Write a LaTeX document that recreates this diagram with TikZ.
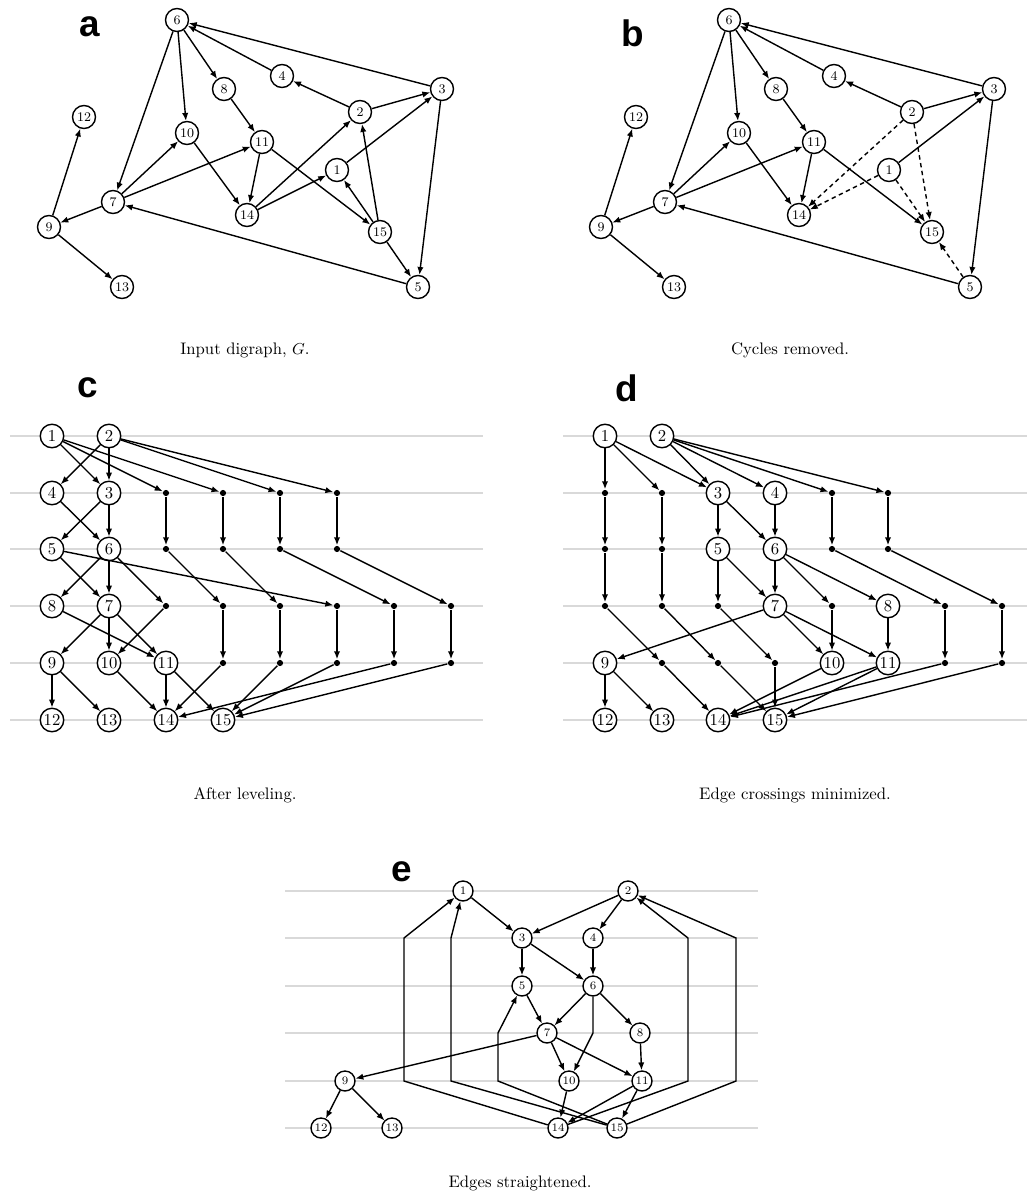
\documentclass[tikz,border=0pt]{standalone}
\usepackage{fontspec}
\newfontfamily\panelfont{Liberation Sans}
\usetikzlibrary{arrows.meta}

\tikzset{
  vx/.style={circle, draw, fill=white, inner sep=0pt, minimum size=0.46cm, font=\fontsize{7.5}{8}\selectfont},
  vc/.style={vx, minimum size=0.47cm, font=\fontsize{9.5}{10}\selectfont},
  ve/.style={vx, minimum size=0.4cm, font=\fontsize{6.5}{7}\selectfont},
  dum/.style={circle, fill, inner sep=0pt, minimum size=3.5pt},
  lvl/.style={gray!30, line width=1.3pt},
  panel/.style={font=\fontsize{21}{24}\selectfont\panelfont\bfseries},
  capt/.style={font=\fontsize{9.5}{11}\selectfont},
  rev/.style={dash pattern=on 2.5pt off 2pt},
}

\begin{document}
\begin{tikzpicture}[x=0.02cm, y=-0.02cm, line width=0.8pt, >={Latex[length=4.5pt,width=3.6pt]}]
        \useasboundingbox (0,0) rectangle (1027,1197);
        % input digraph
        \node[panel] (la) at (90,27) {a};
        \node[vx] (a6) at (177,20) {6};
        \node[vx] (a4) at (282,76) {4};
        \node[vx] (a8) at (224,89) {8};
        \node[vx] (a3) at (442,89) {3};
        \node[vx] (a2) at (360,112) {2};
        \node[vx] (a12) at (84,117) {12};
        \node[vx] (a10) at (187,133) {10};
        \node[vx] (a11) at (262,142) {11};
        \node[vx] (a1) at (337,170) {1};
        \node[vx] (a7) at (113,202) {7};
        \node[vx] (a14) at (247,215) {14};
        \node[vx] (a9) at (49,227) {9};
        \node[vx] (a15) at (380,232) {15};
        \node[vx] (a13) at (122,287) {13};
        \node[vx] (a5) at (418,287) {5};
        \draw (a6) edge[->] (a7) edge[->] (a10) edge[->] (a8);
        \draw (a4) edge[->] (a6);
        \draw (a3) edge[->] (a6) edge[->] (a5);
        \draw (a2) edge[->] (a4) edge[->] (a3);
        \draw (a1) edge[->] (a3);
        \draw (a5) edge[->] (a7);
        \draw (a15) edge[->] (a5) edge[->] (a2) edge[->] (a1);
        \draw (a14) edge[->] (a2) edge[->] (a1);
        \draw (a11) edge[->] (a15) edge[->] (a14);
        \draw (a10) edge[->] (a14);
        \draw (a8) edge[->] (a11);
        \draw (a7) edge[->] (a10) edge[->] (a11) edge[->] (a9);
        \draw (a9) edge[->] (a12) edge[->] (a13);
        \node[capt] (ca) at (245,350) {Input digraph, $G$.};

        % cycles removed
        \node[panel] (lb) at (633,33) {b};
        \node[vx] (b6) at (729,20) {6};
        \node[vx] (b4) at (834,76) {4};
        \node[vx] (b8) at (776,89) {8};
        \node[vx] (b3) at (994,89) {3};
        \node[vx] (b2) at (912,112) {2};
        \node[vx] (b12) at (636,117) {12};
        \node[vx] (b10) at (739,133) {10};
        \node[vx] (b11) at (814,142) {11};
        \node[vx] (b1) at (889,170) {1};
        \node[vx] (b7) at (665,202) {7};
        \node[vx] (b14) at (799,215) {14};
        \node[vx] (b9) at (601,227) {9};
        \node[vx] (b15) at (932,232) {15};
        \node[vx] (b13) at (674,287) {13};
        \node[vx] (b5) at (970,287) {5};
        \draw (b6) edge[->] (b7) edge[->] (b10) edge[->] (b8);
        \draw (b4) edge[->] (b6);
        \draw (b3) edge[->] (b6) edge[->] (b5);
        \draw (b2) edge[->] (b4) edge[->] (b3);
        \draw (b1) edge[->] (b3);
        \draw (b5) edge[->] (b7);
        \draw (b11) edge[->] (b15) edge[->] (b14);
        \draw (b10) edge[->] (b14);
        \draw (b8) edge[->] (b11);
        \draw (b7) edge[->] (b10) edge[->] (b11) edge[->] (b9);
        \draw (b9) edge[->] (b12) edge[->] (b13);
        \draw[rev] (b5) edge[->] (b15);
        \draw[rev] (b2) edge[->] (b15) edge[->] (b14);
        \draw[rev] (b1) edge[->] (b15) edge[->] (b14);
        \node[capt] (cb) at (790,350) {Cycles removed.};

        % after leveling
        \node[panel] (lc) at (88,388) {c};
        \draw[lvl] (10,436) -- (483,436) (10,493) -- (483,493) (10,549) -- (483,549)
                   (10,606) -- (483,606) (10,663) -- (483,663) (10,720) -- (483,720);
        \node[vc] (c1) at (52,436) {1};
        \node[vc] (c2) at (109,436) {2};
        \node[vc] (c4) at (52,493) {4};
        \node[vc] (c3) at (109,493) {3};
        \node[vc] (c5) at (52,549) {5};
        \node[vc] (c6) at (109,549) {6};
        \node[vc] (c8) at (52,606) {8};
        \node[vc] (c7) at (109,606) {7};
        \node[vc] (c9) at (52,663) {9};
        \node[vc] (c10) at (109,663) {10};
        \node[vc] (c11) at (166,663) {11};
        \node[vc] (c12) at (52,720) {12};
        \node[vc] (c13) at (109,720) {13};
        \node[vc] (c14) at (166,720) {14};
        \node[vc] (c15) at (223,720) {15};
        \node[dum] (cp1) at (166,493) {};
        \node[dum] (cp2) at (166,549) {};
        \node[dum] (cp3) at (223,606) {};
        \node[dum] (cp4) at (223,663) {};
        \node[dum] (cq1) at (223,493) {};
        \node[dum] (cq2) at (223,549) {};
        \node[dum] (cq3) at (280,606) {};
        \node[dum] (cq4) at (280,663) {};
        \node[dum] (cr1) at (280,493) {};
        \node[dum] (cr2) at (280,549) {};
        \node[dum] (cr3) at (394,606) {};
        \node[dum] (cr4) at (394,663) {};
        \node[dum] (cs1) at (337,493) {};
        \node[dum] (cs2) at (337,549) {};
        \node[dum] (cs3) at (451,606) {};
        \node[dum] (cs4) at (451,663) {};
        \node[dum] (ct1) at (337,606) {};
        \node[dum] (ct2) at (337,663) {};
        \node[dum] (cu1) at (166,606) {};
        \draw (c1) edge[->] (c3) edge[->] (cp1) edge[->] (cq1);
        \draw (c2) edge[->] (c4) edge[->] (c3) edge[->] (cr1) edge[->] (cs1);
        \draw (c4) edge[->] (c6);
        \draw (c3) edge[->] (c6) edge[->] (c5);
        \draw (c5) edge[->] (c7) edge[->] (ct1);
        \draw (c6) edge[->] (c8) edge[->] (c7) edge[->] (cu1);
        \draw (cu1) edge[->] (c10);
        \draw (c8) edge[->] (c11);
        \draw (c7) edge[->] (c9) edge[->] (c10) edge[->] (c11);
        \draw (c9) edge[->] (c12) edge[->] (c13);
        \draw (c10) edge[->] (c14);
        \draw (c11) edge[->] (c14) edge[->] (c15);
        \draw (cp1) edge[->] (cp2) (cp2) edge[->] (cp3) (cp3) edge[->] (cp4) (cp4) edge[->] (c14);
        \draw (cq1) edge[->] (cq2) (cq2) edge[->] (cq3) (cq3) edge[->] (cq4) (cq4) edge[->] (c15);
        \draw (cr1) edge[->] (cr2) (cr2) edge[->] (cr3) (cr3) edge[->] (cr4) (cr4) edge[->] (c14);
        \draw (cs1) edge[->] (cs2) (cs2) edge[->] (cs3) (cs3) edge[->] (cs4) (cs4) edge[->] (c15);
        \draw (ct1) edge[->] (ct2) (ct2) edge[->] (c15);
        \node[capt] (cc) at (245,795) {After leveling.};

        % edge crossings minimized
        \node[panel] (ld) at (627,388) {d};
        \draw[lvl] (563,436) -- (1027,436) (563,493) -- (1027,493) (563,549) -- (1027,549)
                   (563,606) -- (1027,606) (563,663) -- (1027,663) (563,720) -- (1027,720);
        \node[vc] (d1) at (605,436) {1};
        \node[vc] (d2) at (662,436) {2};
        \node[vc] (d3) at (718,493) {3};
        \node[vc] (d4) at (775,493) {4};
        \node[vc] (d5) at (718,549) {5};
        \node[vc] (d6) at (775,549) {6};
        \node[vc] (d7) at (775,606) {7};
        \node[vc] (d8) at (888,606) {8};
        \node[vc] (d9) at (605,663) {9};
        \node[vc] (d10) at (832,663) {10};
        \node[vc] (d11) at (888,663) {11};
        \node[vc] (d12) at (605,720) {12};
        \node[vc] (d13) at (662,720) {13};
        \node[vc] (d14) at (718,720) {14};
        \node[vc] (d15) at (775,720) {15};
        \node[dum] (dp1) at (605,493) {};
        \node[dum] (dp2) at (605,549) {};
        \node[dum] (dp3) at (605,606) {};
        \node[dum] (dp4) at (662,663) {};
        \node[dum] (dq1) at (662,493) {};
        \node[dum] (dq2) at (662,549) {};
        \node[dum] (dq3) at (662,606) {};
        \node[dum] (dq4) at (718,663) {};
        \node[dum] (dr1) at (832,493) {};
        \node[dum] (dr2) at (832,549) {};
        \node[dum] (dr3) at (945,606) {};
        \node[dum] (dr4) at (945,663) {};
        \node[dum] (ds1) at (888,493) {};
        \node[dum] (ds2) at (888,549) {};
        \node[dum] (ds3) at (1002,606) {};
        \node[dum] (ds4) at (1002,663) {};
        \node[dum] (dt1) at (718,606) {};
        \node[dum] (dt2) at (775,663) {};
        \node[dum] (du1) at (832,606) {};
        \draw (d1) edge[->] (dp1) edge[->] (dq1) edge[->] (d3);
        \draw (d2) edge[->] (d3) edge[->] (d4) edge[->] (dr1) edge[->] (ds1);
        \draw (d3) edge[->] (d5) edge[->] (d6);
        \draw (d4) edge[->] (d6);
        \draw (d5) edge[->] (dt1) edge[->] (d7);
        \draw (d6) edge[->] (d7) edge[->] (du1) edge[->] (d8);
        \draw (du1) edge[->] (d10);
        \draw (d7) edge[->] (d9) edge[->] (d10) edge[->] (d11);
        \draw (d8) edge[->] (d11);
        \draw (d9) edge[->] (d12) edge[->] (d13);
        \draw (d10) edge[->] (d14);
        \draw (d11) edge[->] (d14) edge[->] (d15);
        \draw (dp1) edge[->] (dp2) (dp2) edge[->] (dp3) (dp3) edge[->] (dp4) (dp4) edge[->] (d14);
        \draw (dq1) edge[->] (dq2) (dq2) edge[->] (dq3) (dq3) edge[->] (dq4) (dq4) edge[->] (d15);
        \draw (dr1) edge[->] (dr2) (dr2) edge[->] (dr3) (dr3) edge[->] (dr4) (dr4) edge[->] (d14);
        \draw (ds1) edge[->] (ds2) (ds2) edge[->] (ds3) (ds3) edge[->] (ds4) (ds4) edge[->] (d15);
        \draw (dt1) edge[->] (dt2) (dt2) edge[->] (d15);
        \node[capt] (cd) at (795,795) {Edge crossings minimized.};

        % edges straightened
        \node[panel] (le) at (402,872) {e};
        \draw[lvl] (285,891) -- (758,891) (285,938) -- (758,938) (285,986) -- (758,986)
                   (285,1033) -- (758,1033) (285,1081) -- (758,1081) (285,1128) -- (758,1128);
        \node[ve] (e1) at (463,891) {1};
        \node[ve] (e2) at (628,891) {2};
        \node[ve] (e3) at (522,938) {3};
        \node[ve] (e4) at (593,938) {4};
        \node[ve] (e5) at (522,986) {5};
        \node[ve] (e6) at (593,986) {6};
        \node[ve] (e7) at (547,1033) {7};
        \node[ve] (e8) at (640,1033) {8};
        \node[ve] (e9) at (345,1081) {9};
        \node[ve] (e10) at (569,1081) {10};
        \node[ve] (e11) at (642,1081) {11};
        \node[ve] (e12) at (321,1128) {12};
        \node[ve] (e13) at (392,1128) {13};
        \node[ve] (e14) at (558,1128) {14};
        \node[ve] (e15) at (617,1128) {15};
        \coordinate (ep1) at (404,1081);
        \coordinate (ep2) at (404,938);
        \coordinate (eq1) at (451,1081);
        \coordinate (eq2) at (451,938);
        \coordinate (et1) at (498,1081);
        \coordinate (et2) at (498,1033);
        \coordinate (er1) at (688,1081);
        \coordinate (er2) at (688,938);
        \coordinate (es1) at (736,1081);
        \coordinate (es2) at (736,938);
        \coordinate (eu1) at (593,1033);
        \draw (e1) edge[->] (e3);
        \draw (e2) edge[->] (e3) edge[->] (e4);
        \draw (e3) edge[->] (e5) edge[->] (e6);
        \draw (e4) edge[->] (e6);
        \draw (e5) edge[->] (e7);
        \draw (e6) edge[->] (e7) edge[->] (e8);
        \draw[->] (e6) -- (eu1) -- (e10);
        \draw (e7) edge[->] (e9) edge[->] (e10) edge[->] (e11);
        \draw (e8) edge[->] (e11);
        \draw (e9) edge[->] (e12) edge[->] (e13);
        \draw (e10) edge[->] (e14);
        \draw (e11) edge[->] (e14) edge[->] (e15);
        \draw[->] (e14) -- (ep1) -- (ep2) -- (e1);
        \draw[->] (e15) -- (eq1) -- (eq2) -- (e1);
        \draw[->] (e15) -- (et1) -- (et2) -- (e5);
        \draw[->] (e14) -- (er1) -- (er2) -- (e2);
        \draw[->] (e15) -- (es1) -- (es2) -- (e2);
        \node[capt] (ce) at (520,1183) {Edges straightened.};
    \end{tikzpicture}
\end{document}
